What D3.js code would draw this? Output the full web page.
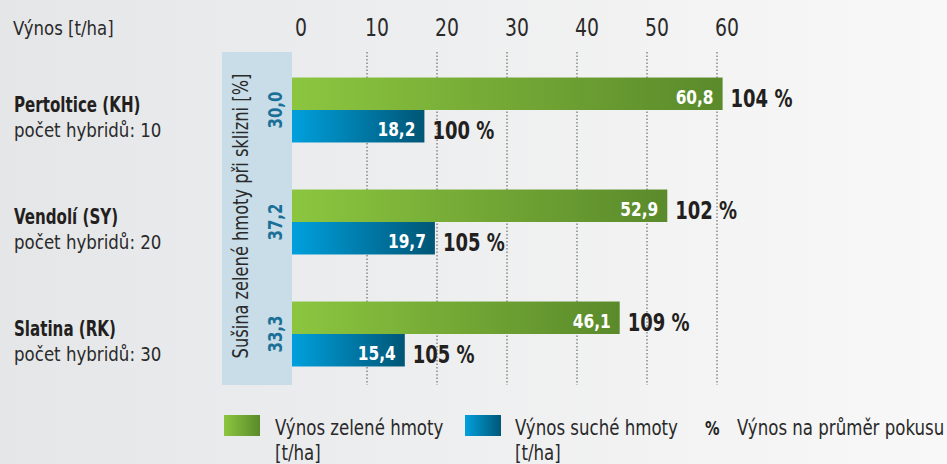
<!DOCTYPE html>
<html lang="cs">

<head>
    <meta charset="UTF-8">
    <script src="https://d3js.org/d3.v7.min.js"></script>
    <style>
        body { margin: 0; }
        text { font-family: "DejaVu Sans Condensed", "DejaVu Sans", sans-serif; }
    </style>
</head>

<body>
    <script>

        // data
        const sites = ["Pertoltice (KH)", "Vendolí (SY)", "Slatina (RK)"];
        const hybrids = ["počet hybridů: 10", "počet hybridů: 20", "počet hybridů: 30"];
        const greenYield = [60.8, 52.9, 46.1];
        const dryYield = [18.2, 19.7, 15.4];
        const greenPct = [104, 102, 109];
        const dryPct = [100, 105, 105];
        const drySubstance = ["30,0", "37,2", "33,3"];
        const xTicks = [0, 10, 20, 30, 40, 50, 60];

        const W = 947, H = 464;
        const fmt = v => v.toFixed(1).replace(".", ",");

        // squeeze text horizontally around its anchor (the original font is a condensed one)
        function squeeze(sel, k) {
            sel.attr("transform", function () {
                const x = +this.getAttribute("x") || 0;
                return `translate(${x * (1 - k)},0) scale(${k},1)`;
            });
        }

        const svg = d3.select("body").append("svg")
            .attr("width", W)
            .attr("height", H);

        const defs = svg.append("defs");

        // background gradient
        const bg = defs.append("linearGradient").attr("id", "bg");
        bg.append("stop").attr("offset", "0%").attr("stop-color", "#e5e6e8");
        bg.append("stop").attr("offset", "100%").attr("stop-color", "#f8f8f8");

        const gG = defs.append("linearGradient").attr("id", "gGreen");
        gG.append("stop").attr("offset", "0%").attr("stop-color", "#8cc63f");
        gG.append("stop").attr("offset", "100%").attr("stop-color", "#5a8a2b");

        const gB = defs.append("linearGradient").attr("id", "gBlue");
        gB.append("stop").attr("offset", "0%").attr("stop-color", "#00a0dd");
        gB.append("stop").attr("offset", "100%").attr("stop-color", "#005676");

        svg.append("rect").attr("width", W).attr("height", H).attr("fill", "url(#bg)");

        // scales
        const x = d3.scaleLinear().domain([0, 60]).range([297, 717]);
        const barStart = 292;
        const y = d3.scaleBand().domain(sites).range([54, 390])
            .paddingInner(0.42).paddingOuter(0.21);
        const ySub = d3.scaleBand().domain(["green", "dry"]).range([0, y.bandwidth()]);

        // left shaded band
        svg.append("rect")
            .attr("x", 222).attr("y", 52)
            .attr("width", barStart - 222).attr("height", 333)
            .attr("fill", "#c9dde8");

        svg.append("text")
            .attr("transform", "translate(248,216) rotate(-90) scale(0.86,1)")
            .attr("text-anchor", "middle")
            .style("font-size", "21px")
            .style("fill", "#2a2a2a")
            .text("Sušina zelené hmoty při sklizni [%]");

        // gridlines
        svg.selectAll(".grid")
            .data(xTicks.filter(d => d > 0))
            .enter().append("line")
            .attr("x1", d => x(d)).attr("x2", d => x(d))
            .attr("y1", 52).attr("y2", 385)
            .attr("stroke", "#555")
            .attr("stroke-width", 1)
            .attr("stroke-dasharray", "1.5,2");

        // tick labels
        svg.selectAll(".tick")
            .data(xTicks)
            .enter().append("text")
            .attr("x", d => x(d) - 2)
            .attr("y", 36)
            .style("font-size", "24px")
            .style("fill", "#2a2a2a")
            .text(d => d)
            .call(squeeze, 0.87);

        svg.append("text")
            .attr("x", 13).attr("y", 35)
            .style("font-size", "20px")
            .style("fill", "#2a2a2a")
            .text("Výnos [t/ha]")
            .call(squeeze, 0.92);

        // groups
        const g = svg.selectAll(".site")
            .data(sites)
            .enter().append("g")
            .attr("transform", d => `translate(0,${y(d)})`);

        g.append("text")
            .attr("x", 14).attr("y", ySub.bandwidth() + 2)
            .style("font-size", "21px")
            .style("font-weight", "bold")
            .style("fill", "#231f20")
            .text(d => d)
            .call(squeeze, 0.8);

        g.append("text")
            .attr("x", 14).attr("y", ySub.bandwidth() + 27)
            .style("font-size", "20px")
            .style("fill", "#2a2a2a")
            .text((d, i) => hybrids[i])
            .call(squeeze, 0.925);

        // green bars
        g.append("rect")
            .attr("x", barStart)
            .attr("y", ySub("green"))
            .attr("width", (d, i) => x(greenYield[i]) - barStart)
            .attr("height", ySub.bandwidth())
            .attr("fill", "url(#gGreen)");

        // dry bars
        g.append("rect")
            .attr("x", barStart)
            .attr("y", ySub("dry"))
            .attr("width", (d, i) => x(dryYield[i]) - barStart)
            .attr("height", ySub.bandwidth())
            .attr("fill", "url(#gBlue)");

        // values inside bars
        g.append("text")
            .attr("x", (d, i) => x(greenYield[i]) - 9)
            .attr("y", ySub("green") + 26)
            .attr("text-anchor", "end")
            .style("font-size", "19px")
            .style("font-weight", "bold")
            .style("fill", "#fff")
            .text((d, i) => fmt(greenYield[i]))
            .call(squeeze, 0.9);

        g.append("text")
            .attr("x", (d, i) => x(dryYield[i]) - 9)
            .attr("y", ySub("dry") + 26)
            .attr("text-anchor", "end")
            .style("font-size", "19px")
            .style("font-weight", "bold")
            .style("fill", "#fff")
            .text((d, i) => fmt(dryYield[i]))
            .call(squeeze, 0.9);

        // percent labels
        g.append("text")
            .attr("x", (d, i) => x(greenYield[i]) + 8)
            .attr("y", ySub("green") + 29)
            .style("font-size", "25px")
            .style("font-weight", "bold")
            .style("fill", "#231f20")
            .text((d, i) => greenPct[i] + " %")
            .call(squeeze, 0.8);

        g.append("text")
            .attr("x", (d, i) => x(dryYield[i]) + 8)
            .attr("y", ySub("dry") + 29)
            .style("font-size", "25px")
            .style("font-weight", "bold")
            .style("fill", "#231f20")
            .text((d, i) => dryPct[i] + " %")
            .call(squeeze, 0.8);

        // dry substance values
        g.append("text")
            .attr("transform", `translate(282,${ySub.bandwidth()}) rotate(-90) scale(0.83,1)`)
            .attr("text-anchor", "middle")
            .style("font-size", "20px")
            .style("font-weight", "bold")
            .style("fill", "#1a7096")
            .text((d, i) => drySubstance[i]);

        // legend
        const legend = svg.append("g");
        legend.append("rect").attr("x", 224).attr("y", 415).attr("width", 36).attr("height", 21).attr("fill", "url(#gGreen)");
        legend.append("rect").attr("x", 465).attr("y", 415).attr("width", 36).attr("height", 21).attr("fill", "url(#gBlue)");

        const legText = [
            { x: 275, y: 435, t: "Výnos zelené hmoty" },
            { x: 275, y: 460, t: "[t/ha]" },
            { x: 515, y: 435, t: "Výnos suché hmoty" },
            { x: 515, y: 460, t: "[t/ha]" },
            { x: 737, y: 435, t: "Výnos na průměr pokusu" }
        ];
        legend.selectAll(".lt")
            .data(legText)
            .enter().append("text")
            .attr("x", d => d.x).attr("y", d => d.y)
            .style("font-size", "21px")
            .style("fill", "#2a2a2a")
            .text(d => d.t)
            .call(squeeze, 0.88);

        legend.append("text")
            .attr("x", 705).attr("y", 435)
            .style("font-size", "19px")
            .style("font-weight", "bold")
            .style("fill", "#231f20")
            .text("%")
            .call(squeeze, 0.85);

    </script>
</body>

</html>
